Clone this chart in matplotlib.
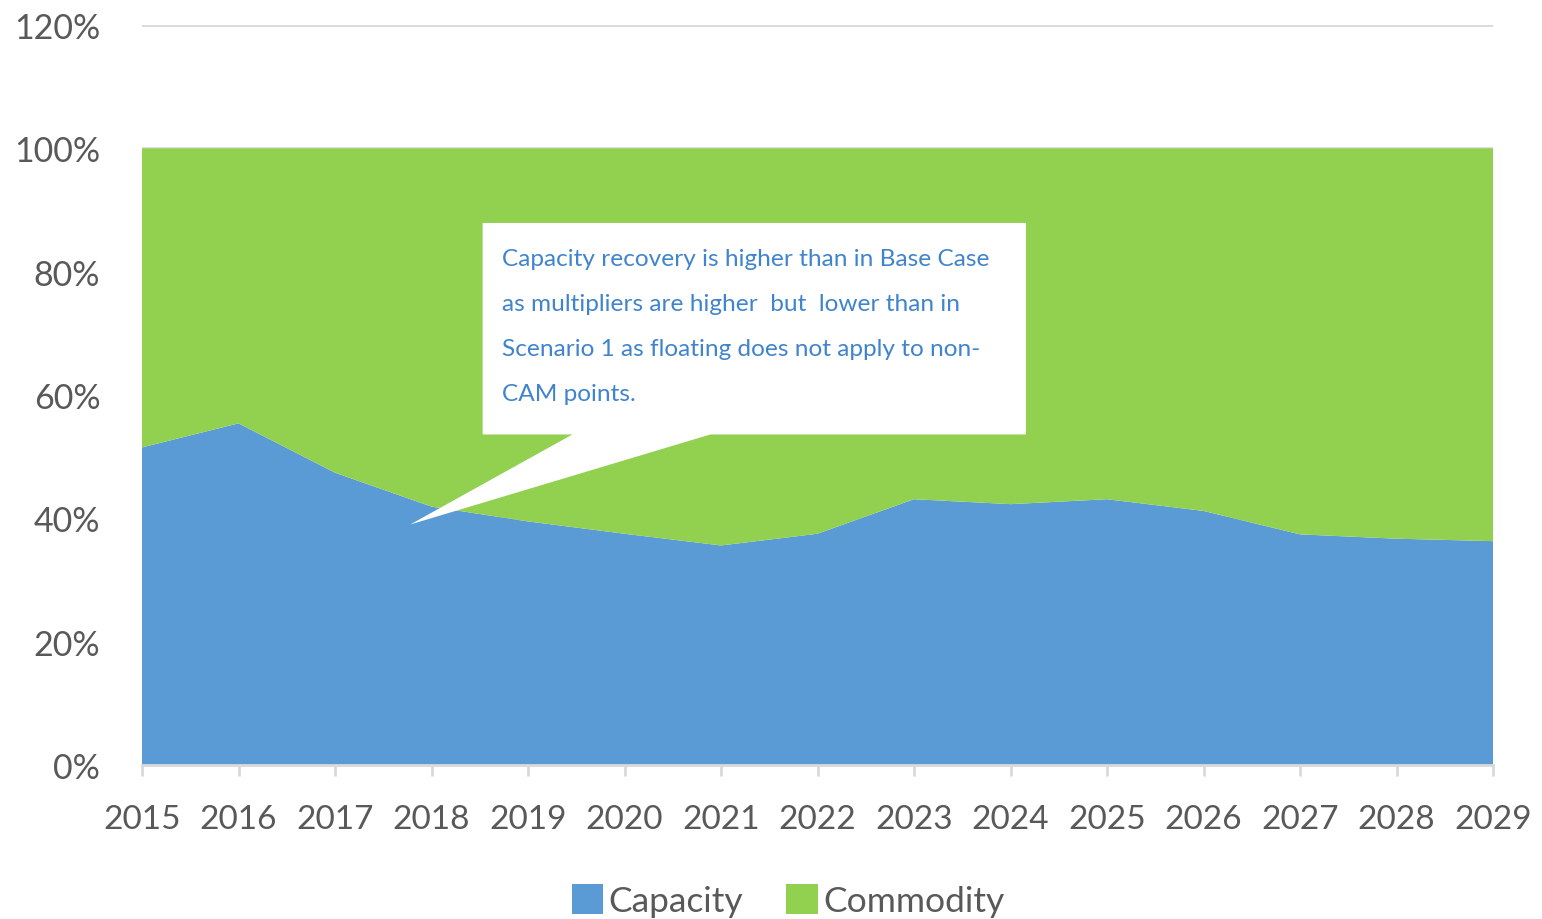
import matplotlib
matplotlib.use("Agg")
import matplotlib.pyplot as plt
from matplotlib.patches import Polygon, Patch
import numpy as np

years = [2015, 2016, 2017, 2018, 2019, 2020, 2021, 2022, 2023, 2024, 2025, 2026, 2027, 2028, 2029]
capacity = [51.5, 55.4, 47.4, 41.9, 39.5, 37.5, 35.6, 37.5, 43.1, 42.3, 43.1, 41.2, 37.4, 36.7, 36.3]
commodity = [100 - c for c in capacity]
series_names = ["Capacity", "Commodity"]
yticks = [0, 20, 40, 60, 80, 100, 120]
note_lines = ["Capacity recovery is higher than in Base Case",
              "as multipliers are higher  but  lower than in",
              "Scenario 1 as floating does not apply to non-",
              "CAM points."]

blue = "#5B9BD5"
green = "#92D050"
grey_txt = "#595959"
grid_c = "#D9D9D9"
plt.rcParams['font.family'] = ['Lato', 'DejaVu Sans']

fig = plt.figure(figsize=(15.42, 9.2), dpi=100)
ax = fig.add_axes([142/1542, 1-766/920, (1493-142)/1542, (766-26)/920])

ax.stackplot(years, capacity, commodity, colors=[blue, green], linewidth=0)
ax.set_xlim(years[0], years[-1])
ax.set_ylim(0, 120)
ax.set_yticks(yticks)
ax.set_yticklabels([f"{t}%" for t in yticks])
ax.set_xticks(years)
ax.set_xticklabels([str(y) for y in years])
for t in yticks:
    ax.axhline(t, color=grid_c, lw=2, zorder=0)
ax.set_axisbelow(True)
for s in ["top", "right", "left"]:
    ax.spines[s].set_visible(False)
ax.spines["bottom"].set_color(grid_c)
ax.spines["bottom"].set_linewidth(2)
ax.spines["bottom"].set_zorder(5)
ax.tick_params(axis="y", length=0, pad=30, labelsize=24.5, labelcolor=grey_txt)
ax.tick_params(axis="x", length=8, width=2, color=grid_c, pad=20, labelsize=24, labelcolor=grey_txt)

# callout box (data coordinates)
x0, x1 = 2018.53, 2024.16
yb, yt = 53.6, 87.9
tip = (2017.78, 39.0)
b0, b1 = 2019.46, 2020.89
poly = Polygon([(x0, yb), (x0, yt), (x1, yt), (x1, yb), (b1, yb), tip, (b0, yb)],
               closed=True, facecolor="white", edgecolor="none", zorder=6)
ax.add_patch(poly)
line_y = [82.2, 74.9, 67.6, 60.3]
for yy, ln in zip(line_y, note_lines):
    ax.text(x0 + 0.2, yy, ln, color="#3F84CC", fontsize=17.6, va="center", ha="left", zorder=7)

handles = [Patch(facecolor=blue, edgecolor="none"), Patch(facecolor=green, edgecolor="none")]
leg = fig.legend(handles, series_names, loc="center", bbox_to_anchor=(0.511, 0.02),
                 ncol=2, frameon=False, fontsize=25.5, handlelength=0.9, handleheight=0.9,
                 handletextpad=0.15, columnspacing=1.2, labelcolor=grey_txt)

fig.savefig("out.png", dpi=100)
